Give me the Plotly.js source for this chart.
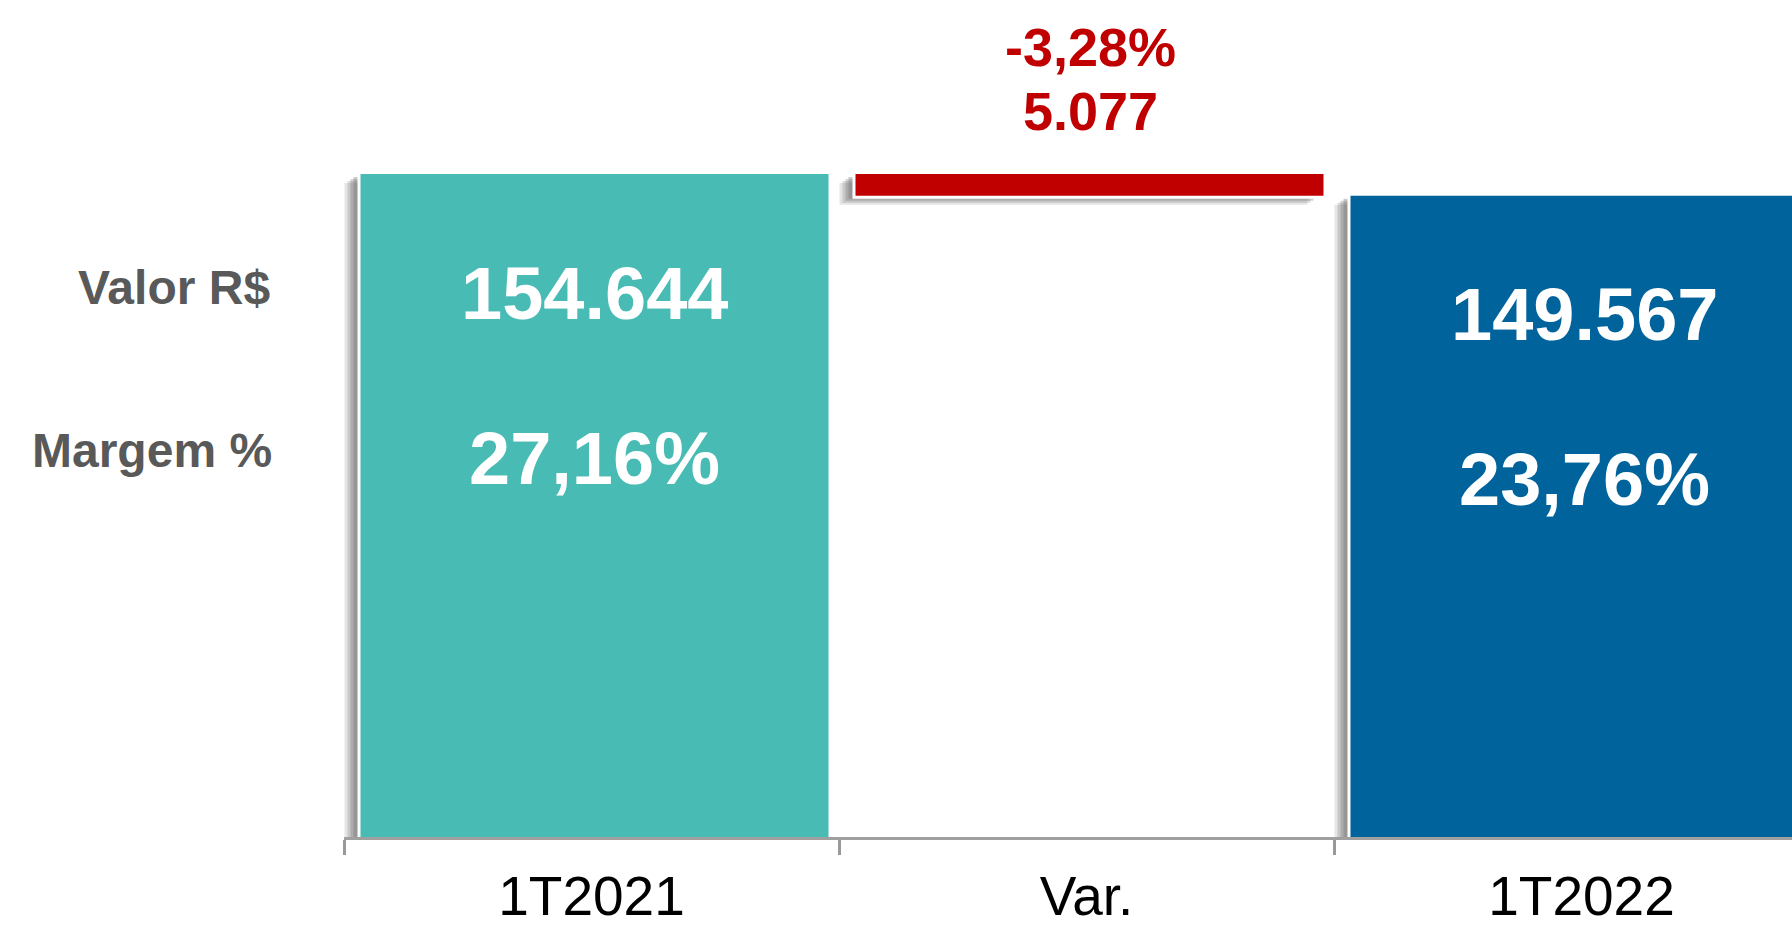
<!DOCTYPE html>
<html>
<head>
<meta charset="utf-8">
<script src="https://cdn.plot.ly/plotly-3.0.1.min.js"></script>
<style>
html,body{margin:0;padding:0;background:#fff;}
#chart{width:1792px;height:926px;}
</style>
</head>
<body>
<div id="chart"></div>
<script>
// ---- data ----
const categories = ["1T2021", "Var.", "1T2022"];
const barValues = [154644, 5077, 149567];      // bar heights
const barBases = [0, 149567, 0];               // waterfall bases
const valueLabels = ["154.644", "5.077", "149.567"];
const marginLabels = ["27,16%", "-3,28%", "23,76%"];
const rowLabels = ["Valor R$", "Margem %"];
const barColors = ["#48BBB4", "#C00000", "#00639B"];

// ---- geometry helpers (styling only) ----
const W = 1792, H = 926;
const mL = 344, mB = 89, mT = 0;
const catPx = 495;                 // pixels per category
const plotW = W - mL;
const xMax = -0.5 + plotW / catPx;
const yMax = 195240;
const pxPerY = (H - mB - mT) / yMax;
const barW = 468 / catPx;
const px2x = p => p / catPx;
const px2y = p => p / pxPerY;
const barOff = -barW / 2 + px2x(3);

const traces = [];
// soft shadow layers (left / down)
const shadowLayers = [
  {dx: 16, dy: 9, op: 0.18},
  {dx: 13, dy: 7, op: 0.24},
  {dx: 10, dy: 5, op: 0.30},
  {dx: 7, dy: 3, op: 0.36}
];
shadowLayers.forEach(s => {
  traces.push({
    type: "bar", x: categories, y: barValues,
    base: barBases.map(b => b - px2y(s.dy)),
    width: barW, offset: barOff - px2x(s.dx),
    marker: {color: "rgba(110,110,110," + s.op + ")", line: {width: 0}},
    hoverinfo: "skip", showlegend: false
  });
});
// white outline
traces.push({
  type: "bar", x: categories, y: barValues.map(v => v + px2y(6)),
  base: barBases.map(b => b - px2y(3)),
  width: barW + px2x(6), offset: barOff - px2x(3),
  marker: {color: "#ffffff", line: {width: 0}},
  hoverinfo: "skip", showlegend: false
});
// main bars
traces.push({
  type: "bar", x: categories, y: barValues, base: barBases,
  width: barW, offset: barOff,
  marker: {color: barColors, line: {width: 0}},
  hoverinfo: "skip", showlegend: false
});

const annotations = [];
const inFont = {family: "Liberation Sans, Arial, sans-serif", size: 74, color: "#ffffff", weight: 700};
const redFont = {family: "Liberation Sans, Arial, sans-serif", size: 54, color: "#C00000", weight: 700};
[0, 2].forEach(i => {
  const top = barBases[i] + barValues[i];
  annotations.push({x: categories[i], y: top, xref: "x", yref: "y", text: "<b>" + valueLabels[i] + "</b>",
    showarrow: false, yanchor: "middle", xanchor: "center", yshift: -119, xshift: 3, font: inFont});
  annotations.push({x: categories[i], y: top, xref: "x", yref: "y", text: "<b>" + marginLabels[i] + "</b>",
    showarrow: false, yanchor: "middle", xanchor: "center", yshift: -284, xshift: 3, font: inFont});
});
{
  const top = barBases[1] + barValues[1];
  annotations.push({x: categories[1], y: top, xref: "x", yref: "y", text: "<b>" + valueLabels[1] + "</b>",
    showarrow: false, yanchor: "middle", xanchor: "center", yshift: 63, xshift: 4, font: redFont});
  annotations.push({x: categories[1], y: top, xref: "x", yref: "y", text: "<b>" + marginLabels[1] + "</b>",
    showarrow: false, yanchor: "middle", xanchor: "center", yshift: 127, xshift: 4, font: redFont});
}
const rowFont = {family: "Liberation Sans, Arial, sans-serif", size: 48, color: "#595959", weight: 700};
annotations.push({x: 0, y: (H - mB - 287) / (H - mB), xref: "paper", yref: "paper", xanchor: "right", yanchor: "middle",
  xshift: -72, text: "<b>" + rowLabels[0] + "</b>", showarrow: false, font: rowFont});
annotations.push({x: 0, y: (H - mB - 450) / (H - mB), xref: "paper", yref: "paper", xanchor: "right", yanchor: "middle",
  xshift: -70, text: "<b>" + rowLabels[1] + "</b>", showarrow: false, font: rowFont});

const layout = {
  width: W, height: H,
  margin: {l: mL, r: 0, t: mT, b: mB, pad: 0},
  paper_bgcolor: "#ffffff", plot_bgcolor: "#ffffff",
  barmode: "overlay",
  showlegend: false,
  xaxis: {
    type: "category", range: [-0.5, xMax], fixedrange: true,
    showline: true, linecolor: "#A0A0A0", linewidth: 3,
    ticks: "outside", tickson: "boundaries", ticklen: 15, tickwidth: 3, tickcolor: "#999999",
    showgrid: false, zeroline: false,
    tickfont: {family: "Liberation Sans Narrow, Arial Narrow, Arial, sans-serif", size: 55, color: "#000000"},
    ticklabelstandoff: 9
  },
  yaxis: {range: [0, yMax], visible: false, showgrid: false, zeroline: false, fixedrange: true},
  annotations: annotations
};

Plotly.newPlot("chart", traces, layout, {displayModeBar: false, staticPlot: true});
</script>
</body>
</html>
